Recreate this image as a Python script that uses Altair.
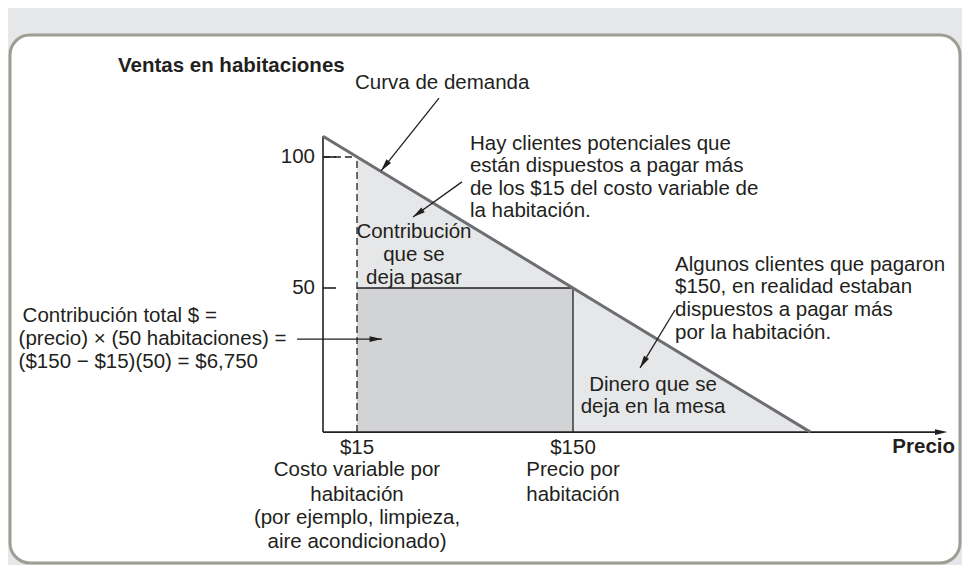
import math
import altair as alt
import pandas as pd

# ---------------- data (price in $, sales in rooms) ----------------
VAR_COST = 15          # $15 variable cost per room
PRICE = 150            # $150 price per room
ROOMS_AT_PRICE = 50    # rooms sold at $150
ROOMS_AT_COST = 100    # rooms demanded at $15

# axes origin / ends (schematic)
AXIS_P0, AXIS_Q0 = -6.25, -5.0
AXIS_P_END, AXIS_Q_TOP = 384.0, 107.9

# demand curve (straight line)
demand_price = [-6.25, 298.4]
demand_rooms = [107.9, -5.0]

# light "consumer surplus" triangle under demand, right of $15
light_price = [15, 298.4]
light_rooms = [100, -5.0]

# y tick labels / x tick labels
y_ticks = [100, 50]
x_ticks = [15, 150]
x_tick_labels = ["$15", "$150"]

# annotation texts
title_y = "Ventas en habitaciones"
title_x = "Precio"
note_demand = ["Curva de demanda"]
note_potential = ["Hay clientes potenciales que", "están dispuestos a pagar más",
                  "de los $15 del costo variable de", "la habitación."]
note_forgone = ["Contribución", "que se", "deja pasar"]
note_total = ["Contribución total $ =", "(precio) × (50 habitaciones) =",
              "($150 − $15)(50) = $6,750"]
note_some = ["Algunos clientes que pagaron", "$150, en realidad estaban",
             "dispuestos a pagar más", "por la habitación."]
note_table = ["Dinero que se", "deja en la mesa"]
note_cost = ["Costo variable por", "habitación", "(por ejemplo, limpieza,",
             "aire acondicionado)"]
note_price = ["Precio por", "habitación"]

# annotation anchor positions (data units) and line steps
demand_note_pos = (13.75, 128.2)
potential_pos, potential_rows = 85.6, [105.0, 96.4, 87.8, 79.2]
forgone_pos, forgone_rows = 50.6, [71.4, 62.6, 53.8]
total_pos, total_rows = -196.5, [39.3, 30.5, 21.8]
some_pos, some_rows = 213.75, [58.8, 50.4, 41.6, 32.8]
table_pos, table_rows = 200.0, [13.0, 4.6]
under_rows = [-11.1, -19.5, -29.0, -37.8, -46.9]
title_y_pos = (-134.4, 134.7)
title_x_pos = (388.75, -10.7)
ytick_label_p = -11.25

# annotation arrows: (from price, from rooms) -> (tip price, tip rooms)
arrows_from_p = [66.25, 80.6, -22.5, 213.75]
arrows_from_q = [122.5, 90.5, 30.5, 41.6]
arrows_to_p = [30.0, 50.0, 30.6, 191.9]
arrows_to_q = [94.7, 77.1, 30.5, 19.5]

# ---------------- scales ----------------
W, H = 950, 528
P_DOMAIN = [-201.875, 391.875]
Q_DOMAIN = [-54.962, 146.565]
PX_PER_P = W / (P_DOMAIN[1] - P_DOMAIN[0])
PX_PER_Q = H / (Q_DOMAIN[1] - Q_DOMAIN[0])

xs = alt.Scale(domain=P_DOMAIN, nice=False, zero=False)
ys = alt.Scale(domain=Q_DOMAIN, nice=False, zero=False)
X = lambda f: alt.X(f, type="quantitative", scale=xs, axis=None)
Y = lambda f: alt.Y(f, type="quantitative", scale=ys, axis=None)

INK = "#231f20"
FONT = "Liberation Sans"
FS = 20.5

# ---------------- layers ----------------
light_df = pd.DataFrame({"p": light_price, "q": light_rooms, "q0": AXIS_Q0})
light = alt.Chart(light_df).mark_area(color="#e6e7e8", opacity=1).encode(
    x=X("p"), y=Y("q"), y2="q0")

dark_df = pd.DataFrame({"p1": [VAR_COST], "p2": [PRICE], "q1": [AXIS_Q0], "q2": [ROOMS_AT_PRICE]})
dark = alt.Chart(dark_df).mark_rect(color="#d1d3d4", opacity=1).encode(
    x=X("p1"), x2="p2", y=Y("q1"), y2="q2")

dash_df = pd.DataFrame({
    "p1": [VAR_COST, AXIS_P0], "p2": [VAR_COST, VAR_COST],
    "q1": [AXIS_Q0, ROOMS_AT_COST], "q2": [ROOMS_AT_COST, ROOMS_AT_COST]})
dashes = alt.Chart(dash_df).mark_rule(color=INK, strokeWidth=1.3, strokeDash=[7, 4]).encode(
    x=X("p1"), x2="p2", y=Y("q1"), y2="q2")

edge_df = pd.DataFrame({
    "p1": [VAR_COST, PRICE], "p2": [PRICE, PRICE],
    "q1": [ROOMS_AT_PRICE, AXIS_Q0], "q2": [ROOMS_AT_PRICE, ROOMS_AT_PRICE]})
edges = alt.Chart(edge_df).mark_rule(color=INK, strokeWidth=1.3).encode(
    x=X("p1"), x2="p2", y=Y("q1"), y2="q2")

tick_len = 13 / PX_PER_P
axis_df = pd.DataFrame({
    "p1": [AXIS_P0, AXIS_P0, AXIS_P0, AXIS_P0],
    "p2": [AXIS_P0, AXIS_P_END - 4, AXIS_P0 + tick_len, AXIS_P0 + tick_len],
    "q1": [AXIS_Q0, AXIS_Q0, y_ticks[0], y_ticks[1]],
    "q2": [AXIS_Q_TOP, AXIS_Q0, y_ticks[0], y_ticks[1]]})
axes = alt.Chart(axis_df).mark_rule(color=INK, strokeWidth=1.6).encode(
    x=X("p1"), x2="p2", y=Y("q1"), y2="q2")

demand_df = pd.DataFrame({"p": demand_price, "q": demand_rooms})
demand = alt.Chart(demand_df).mark_line(color="#6d6e71", strokeWidth=3).encode(
    x=X("p"), y=Y("q"))

arr_df = pd.DataFrame({"p1": arrows_from_p, "q1": arrows_from_q,
                       "p2": arrows_to_p, "q2": arrows_to_q})
arrow_lines = alt.Chart(arr_df).mark_rule(color=INK, strokeWidth=1.3).encode(
    x=X("p1"), x2="p2", y=Y("q1"), y2="q2")


def heading(p1, q1, p2, q2):
    dx = (p2 - p1) * PX_PER_P
    dy = -(q2 - q1) * PX_PER_Q
    return math.degrees(math.atan2(dx, -dy)) % 360


head_rows = [{"p": p2, "q": q2, "ang": heading(p1, q1, p2, q2)}
             for p1, q1, p2, q2 in zip(arrows_from_p, arrows_from_q, arrows_to_p, arrows_to_q)]
head_rows.append({"p": AXIS_P_END, "q": AXIS_Q0, "ang": 90.0})
heads = alt.Chart(pd.DataFrame(head_rows)).mark_point(
    shape="M0,0L-0.45,1.9L0.45,1.9Z", filled=True, size=170, color=INK, opacity=1, strokeWidth=0
).encode(x=X("p"), y=Y("q"), angle=alt.Angle("ang:Q", scale=None))

# texts
left_rows = [{"t": note_demand[0], "p": demand_note_pos[0], "q": demand_note_pos[1]}]
left_rows += [{"t": t, "p": potential_pos, "q": q} for t, q in zip(note_potential, potential_rows)]
left_rows += [{"t": t, "p": total_pos + (2.5 if i == 0 else 0), "q": q}
              for i, (t, q) in enumerate(zip(note_total, total_rows))]
left_rows += [{"t": t, "p": some_pos, "q": q} for t, q in zip(note_some, some_rows)]

center_rows = [{"t": t, "p": forgone_pos, "q": q} for t, q in zip(note_forgone, forgone_rows)]
center_rows += [{"t": t, "p": table_pos, "q": q} for t, q in zip(note_table, table_rows)]
center_rows += [{"t": t, "p": VAR_COST, "q": q}
                for t, q in zip([x_tick_labels[0]] + note_cost, under_rows)]
center_rows += [{"t": t, "p": PRICE, "q": q}
                for t, q in zip([x_tick_labels[1]] + note_price, under_rows)]

right_rows = [{"t": str(v), "p": ytick_label_p, "q": v} for v in y_ticks]


def texts(rows, align, bold=False):
    return alt.Chart(pd.DataFrame(rows)).mark_text(
        align=align, baseline="middle", font=FONT, fontSize=FS, color=INK,
        fontWeight="bold" if bold else "normal"
    ).encode(x=X("p"), y=Y("q"), text="t:N")


t_left = texts(left_rows, "left")
t_center = texts(center_rows, "center")
t_right = texts(right_rows, "right")
t_title_y = texts([{"t": title_y, "p": title_y_pos[0], "q": title_y_pos[1]}], "left", True)
t_title_x = texts([{"t": title_x, "p": title_x_pos[0], "q": title_x_pos[1]}], "right", True)

chart = alt.layer(
    light, dark, dashes, edges, axes, demand, arrow_lines, heads,
    t_left, t_center, t_right, t_title_y, t_title_x
).properties(
    width=W, height=H, background="#e6e7e9",
    padding={"left": 2, "top": 27, "right": 2, "bottom": 2}
).configure_view(
    fill="white", stroke="#9d9d93", strokeWidth=3, cornerRadius=20
)

chart.save("out.html", embed_options={"renderer": "svg", "actions": False})
